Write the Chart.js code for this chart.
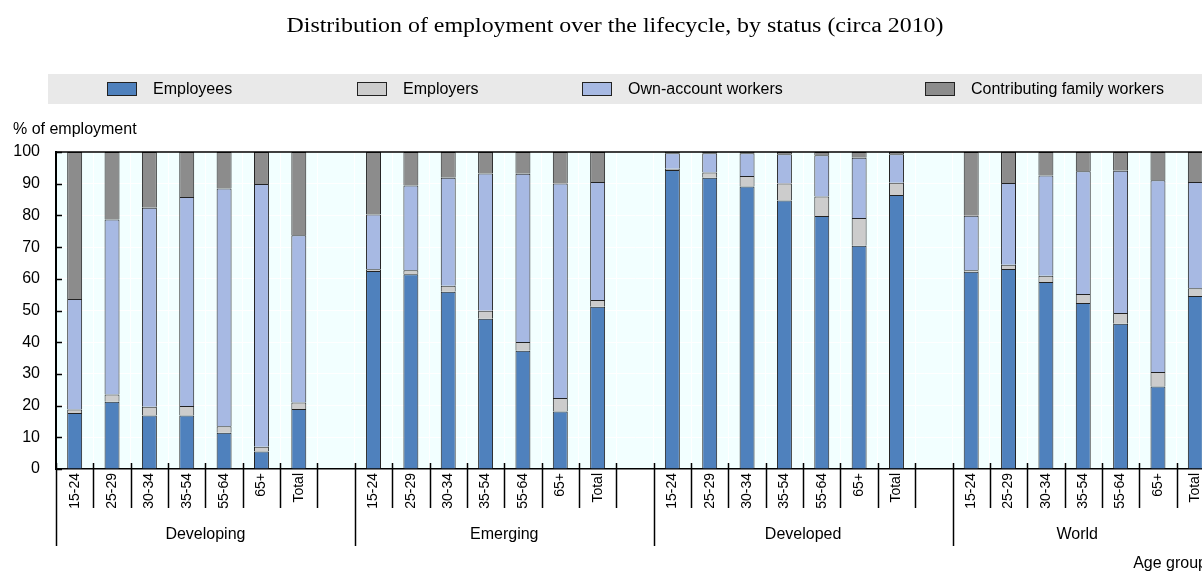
<!DOCTYPE html>
<html>
<head>
<meta charset="utf-8">
<script src="https://cdn.jsdelivr.net/npm/chart.js@4/dist/chart.umd.min.js"></script>
<style>
  html,body{margin:0;padding:0;background:#fff;overflow:hidden;}
  #wrap{position:absolute;left:0;top:0;width:1220px;height:572px;}
</style>
</head>
<body>
<div id="wrap"><canvas id="chart"></canvas></div>
<script>
const title = "Distribution of employment over the lifecycle, by status (circa 2010)";
const groups = ["Developing","Emerging","Developed","World"];
const ages = ["15-24","25-29","30-34","35-54","55-64","65+","Total"];

// one row per age group inside each region, blank slot between regions
const labels = [
  ...ages, "",
  ...ages, "",
  ...ages, "",
  ...ages
];

const employees = [
  17.7,21.2,16.9,16.9,11.4,5.5,18.9, null,
  62.5,61.4,55.9,47.4,37.3,18.1,51.2, null,
  94.3,91.9,89.1,84.7,79.8,70.4,86.4, null,
  62.2,63.1,59.0,52.4,45.8,26.0,54.6
];
const employers = [
  1.1,2.3,2.7,3.0,2.1,1.5,2.1, null,
  0.5,1.3,1.9,2.5,2.8,4.3,2.1, null,
  0.4,1.6,3.3,5.4,6.2,8.8,3.9, null,
  0.5,1.3,2.0,2.8,3.4,4.6,2.4
];
const ownAccount = [
  34.8,55.2,62.8,65.9,75.0,82.9,52.7, null,
  17.3,26.7,34.1,43.3,53.0,67.7,37.2, null,
  4.9,6.1,7.2,9.2,13.0,19.0,9.0, null,
  17.2,25.8,31.6,38.7,44.9,60.5,33.5
];
const familyWorkers = [
  46.4,21.3,17.6,14.2,11.5,10.1,26.3, null,
  19.7,10.6,8.1,6.8,6.9,9.9,9.5, null,
  0.4,0.4,0.4,0.7,1.0,1.8,0.7, null,
  20.1,9.8,7.4,6.1,5.9,8.9,9.5
];
const yTicks = [0,10,20,30,40,50,60,70,80,90,100];

const seriesNames = ["Employees","Employers","Own-account workers","Contributing family workers"];
const seriesColors = ["#4F81BD","#CCCCCC","#A7B9E3","#8C8C8C"];
const seriesData = [employees, employers, ownAccount, familyWorkers];

const FONT = "Arial, 'Liberation Sans', sans-serif";
const VISIBLE_W = 1202;

const decor = {
  id: "decor",
  beforeDraw(chart){
    const {ctx, chartArea:a} = chart;
    ctx.save();
    ctx.fillStyle = "#F2FFFF";
    ctx.fillRect(a.left, a.top, a.right - a.left, a.bottom - a.top);
    ctx.restore();
  },
  afterDraw(chart){
    const {ctx, chartArea:a} = chart;
    const x = chart.scales.x, y = chart.scales.y;
    ctx.save();

    // title, stretched a little to the width of the original
    ctx.fillStyle = "#000";
    ctx.font = "20px 'Liberation Serif', 'Times New Roman', serif";
    ctx.textAlign = "center";
    ctx.textBaseline = "middle";
    const tw = ctx.measureText(title).width;
    ctx.save();
    ctx.translate(615, 27);
    ctx.scale(657 / tw, 1);
    ctx.fillText(title, 0, 0);
    ctx.restore();

    // legend band
    ctx.fillStyle = "#E9E9E9";
    ctx.fillRect(48, 74, 1200, 30);
    const legX = [107, 357, 582, 925];
    ctx.font = "16px " + FONT;
    ctx.textAlign = "left";
    chart.data.datasets.forEach((ds, i) => {
      ctx.fillStyle = ds.backgroundColor;
      ctx.fillRect(legX[i] + 0.5, 82.5, 29, 13);
      ctx.strokeStyle = "#222";
      ctx.lineWidth = 1;
      ctx.strokeRect(legX[i] + 0.5, 82.5, 29, 13);
      ctx.fillStyle = "#000";
      ctx.fillText(ds.label, legX[i] + 46, 90);
    });

    // axis title
    ctx.font = "16px " + FONT;
    ctx.textBaseline = "alphabetic";
    ctx.fillText("% of employment", 13, 134);

    // top border
    ctx.strokeStyle = "#000";
    ctx.lineWidth = 1.5;
    ctx.beginPath();
    ctx.moveTo(a.left, a.top);
    ctx.lineTo(a.right, a.top);
    ctx.stroke();

    // y ticks pointing inward
    yTicks.forEach(v => {
      const py = Math.round(y.getPixelForValue(v)) + 0.5;
      ctx.beginPath();
      ctx.moveTo(a.left, py);
      ctx.lineTo(a.left + 6, py);
      ctx.stroke();
    });

    // category boundary ticks and region separators
    const half = (x.getPixelForValue(1) - x.getPixelForValue(0)) / 2;
    for (let i = 0; i <= labels.length; i++) {
      const px = Math.round(x.getPixelForValue(i) - half) + 0.5;
      const isGroupStart = i % 8 === 0;
      ctx.beginPath();
      ctx.moveTo(px, a.bottom - 6);
      ctx.lineTo(px, isGroupStart ? a.bottom + 77 : a.bottom + 39);
      ctx.stroke();
    }

    // region names
    ctx.font = "16px " + FONT;
    ctx.textAlign = "center";
    ctx.textBaseline = "middle";
    groups.forEach((g, gi) => {
      const first = gi * 8;
      const last = Math.min(first + 7, labels.length - 1);
      const x0 = x.getPixelForValue(first) - half;
      const x1 = Math.min(x.getPixelForValue(last) + half, VISIBLE_W);
      ctx.fillText(g, (x0 + x1) / 2, a.bottom + 66);
    });

    ctx.textAlign = "right";
    ctx.fillText("Age group", 1207, 564);
    ctx.restore();
  }
};

new Chart(document.getElementById("chart"), {
  type: "bar",
  data: {
    labels: labels,
    datasets: seriesNames.map((n, i) => ({
      label: n,
      data: seriesData[i],
      backgroundColor: seriesColors[i],
      borderColor: "#222",
      borderWidth: 1,
      barPercentage: 0.4,
      categoryPercentage: 1
    }))
  },
  options: {
    responsive: true,
    maintainAspectRatio: false,
    animation: false,
    layout: { padding: { top: 152, right: 6, bottom: 0, left: 0 } },
    plugins: { legend: { display: false }, tooltip: { enabled: false } },
    scales: {
      x: {
        stacked: true,
        offset: true,
        grid: { offset: true, color: "#fff", lineWidth: 1, drawTicks: false },
        border: { color: "#000", width: 1.5 },
        ticks: {
          autoSkip: false, maxRotation: 90, minRotation: 90,
          padding: 4, color: "#000", font: { family: FONT, size: 14 }
        },
        afterFit(s){ s.height = 103; }
      },
      y: {
        stacked: true,
        min: 0, max: 100,
        afterBuildTicks(s){ s.ticks = yTicks.map(v => ({ value: v })); },
        grid: { color: "#fff", lineWidth: 1, drawTicks: false },
        border: { color: "#000", width: 2 },
        ticks: { padding: 16, color: "#000", font: { family: FONT, size: 16 } },
        afterFit(s){ s.width = 56; }
      }
    }
  },
  plugins: [decor]
});
</script>
</body>
</html>
